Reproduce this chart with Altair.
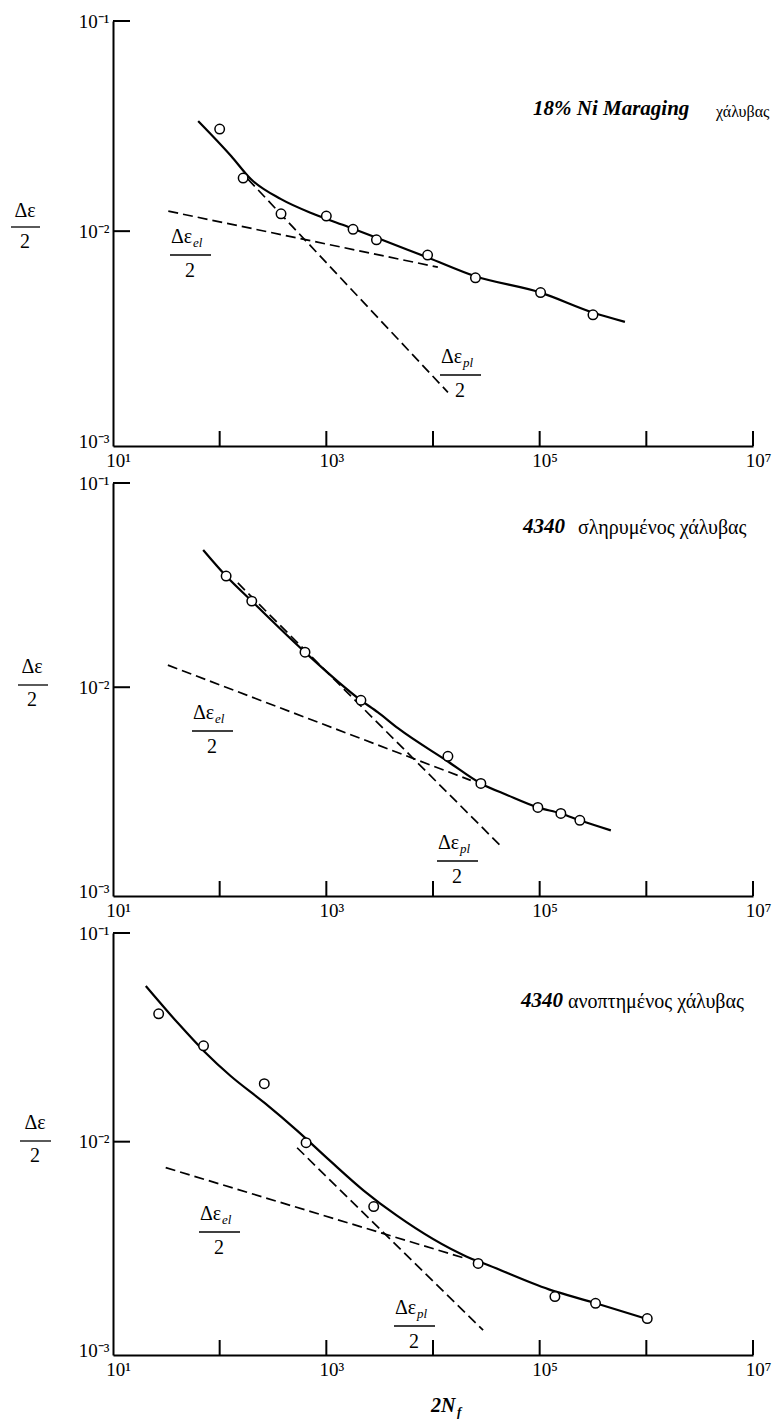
import altair as alt
import pandas as pd

FONT = "Liberation Serif"

# ---------------- data (2N_f , strain amplitude) ----------------
# Panel 1: 18% Ni Maraging
P1_PTS_N = [100, 166, 376, 1000, 1780, 2950, 8900, 25000, 102000, 316000]
P1_PTS_E = [0.0306, 0.0179, 0.0121, 0.0118, 0.0102, 0.0091, 0.0077, 0.0060, 0.0051, 0.0040]
P1_CUR_N = [63, 128, 196, 376, 781, 1590, 4690, 8900, 25000, 102000, 316000, 630000]
P1_CUR_E = [0.0334, 0.0228, 0.0177, 0.0142, 0.0120, 0.0105, 0.0085, 0.0075, 0.0061, 0.0051, 0.0041, 0.0037]
P1_EL_N = [33, 11100]
P1_EL_E = [0.01245, 0.00674]
P1_PL_N = [184, 13800]
P1_PL_E = [0.0177, 0.00171]

# Panel 2: 4340 hardened
P2_PTS_N = [115, 200, 631, 2110, 13800, 28100, 96200, 158000, 238000]
P2_PTS_E = [0.0350, 0.0264, 0.01485, 0.00863, 0.00459, 0.00338, 0.00258, 0.00241, 0.00223]
P2_CUR_N = [70, 115, 200, 631, 2110, 3050, 4690, 13800, 28100, 50000, 96200, 158000, 238000, 465000]
P2_CUR_E = [0.0470, 0.0350, 0.0264, 0.01485, 0.00863, 0.00753, 0.0063, 0.00433, 0.00338, 0.00296, 0.00258, 0.00241, 0.00223, 0.00199]
P2_EL_N = [32.7, 22600]
P2_EL_E = [0.01283, 0.00350]
P2_PL_N = [148, 45200]
P2_PL_E = [0.0324, 0.00163]

# Panel 3: 4340 annealed
P3_PTS_N = [26.8, 70.6, 262, 646, 2780, 26500, 139000, 334000, 1020000]
P3_PTS_E = [0.0410, 0.0288, 0.01896, 0.00989, 0.00489, 0.00261, 0.00181, 0.00168, 0.00142]
P3_CUR_N = [20.3, 40.4, 72.1, 126, 262, 532, 1080, 2240, 4560, 20500, 33600, 122000, 313000, 980000]
P3_CUR_E = [0.0557, 0.0371, 0.0270, 0.0207, 0.01538, 0.01130, 0.00811, 0.00583, 0.00443, 0.00282, 0.00255, 0.00196, 0.00170, 0.00142]
P3_EL_N = [31.2, 20500]
P3_EL_E = [0.00751, 0.00275]
P3_PL_N = [532, 29500]
P3_PL_E = [0.00935, 0.00125]

X_TICKS = [1e2, 1e3, 1e4, 1e5, 1e6, 1e7]
X_LABELS = [1e1, 1e3, 1e5, 1e7]
Y_TICKS = [0.01, 0.1]
Y_LABELS = [0.001, 0.01, 0.1]
X_DOMAIN = [10, 1e7]
Y_DOMAIN = [0.00095, 0.1]

W = 640
DUMMY = pd.DataFrame({"d": [0]})


def txt(s, x, y, size=20, style="normal", weight="normal", align="left"):
    return alt.Chart(DUMMY).mark_text(
        text=s, font=FONT, fontSize=size, fontStyle=style, fontWeight=weight,
        align=align, baseline="middle", color="black"
    ).encode(x=alt.value(x), y=alt.value(y))


def hline(x1, x2, y, w=1.3):
    return alt.Chart(DUMMY).mark_rule(color="black", strokeWidth=w).encode(
        x=alt.value(x1), x2=alt.value(x2), y=alt.value(y))


def frac(x, y, sub=None):
    parts = [txt("Δε", x, y, 20)]
    width = 24
    if sub:
        parts.append(txt(sub, x + 22, y + 6, 13, style="italic"))
        width = 40
    parts.append(hline(x - 1, x + width, y + 18))
    parts.append(txt("2", x + width / 2 - 1, y + 34, 20, align="center"))
    return parts


def panel(H, pts, cur, el, pl, extras):
    xs = alt.Scale(type="log", domain=X_DOMAIN, nice=False)
    ys = alt.Scale(type="log", domain=Y_DOMAIN, nice=False)
    xax = alt.Axis(values=X_LABELS, ticks=False, grid=False, domainColor="black",
                   domainWidth=2, labelFont=FONT, labelFontSize=19, labelColor="black",
                   labelExpr="'10' + ['⁰','¹','²','³','⁴','⁵','⁶','⁷'][round(log(datum.value)/LN10)]",
                   labelPadding=5, labelOffset=5, labelFlush=False, labelOverlap=False,
                   labelBaseline="top", title=None)
    yax = alt.Axis(values=Y_LABELS, ticks=False, grid=False, domainColor="black",
                   domainWidth=2, labelFont=FONT, labelFontSize=19, labelColor="black",
                   labelExpr="'10⁻' + ['⁰','¹','²','³'][round(-log(datum.value)/LN10)]",
                   labelPadding=4, labelFlush=False, labelOverlap=False, title=None)
    X = alt.X("N:Q", scale=xs, axis=xax)
    Y = alt.Y("E:Q", scale=ys, axis=yax)

    def df(n, e):
        return pd.DataFrame({"N": n, "E": e})

    curve = alt.Chart(df(*cur)).mark_line(color="black", strokeWidth=2.2,
                                          interpolate="monotone").encode(x=X, y=Y)
    elas = alt.Chart(df(*el)).mark_line(color="black", strokeWidth=1.7,
                                         strokeDash=[10, 5]).encode(x=X, y=Y)
    plas = alt.Chart(df(*pl)).mark_line(color="black", strokeWidth=1.7,
                                         strokeDash=[10, 5]).encode(x=X, y=Y)
    points = alt.Chart(df(*pts)).mark_point(shape="circle", filled=True, fill="white",
                                            stroke="black", strokeWidth=1.5,
                                            size=90, opacity=1).encode(x=X, y=Y)
    xt = alt.Chart(pd.DataFrame({"N": X_TICKS})).mark_rule(color="black", strokeWidth=2).encode(
        x=alt.X("N:Q", scale=xs, axis=xax), y=alt.value(H), y2=alt.value(H - 15))
    yt = alt.Chart(pd.DataFrame({"E": Y_TICKS})).mark_rule(color="black", strokeWidth=2).encode(
        y=alt.Y("E:Q", scale=ys, axis=yax), x=alt.value(0), x2=alt.value(17))
    layers = [elas, plas, curve, points, xt, yt] + extras
    return alt.layer(*layers).properties(
        width=W, height=H,
        view=alt.ViewBackground(stroke="transparent", strokeWidth=0, strokeOpacity=0)
    )


H1, H2, H3 = 425, 413, 422

ex1 = [
    txt("Δε", -88, 190, 20, align="center"), hline(-102, -73, 206), txt("2", -88, 221, 20, align="center"),
    txt("18% Ni Maraging", 420, 88, 21, style="italic", weight="bold"),
    txt("χάλυβας", 603, 91, 16),
] + frac(58, 216, "el") + frac(328, 336, "pl")

ex2 = [
    txt("Δε", -81, 184, 20, align="center"), hline(-95, -65, 202), txt("2", -81, 217, 20, align="center"),
    txt("4340", 410, 44, 21, style="italic", weight="bold"),
    txt("σληρυμένος χάλυβας", 465, 45, 20),
] + frac(80, 230, "el") + frac(325, 360, "pl")

ex3 = [
    txt("Δε", -78, 190, 20, align="center"), hline(-93, -62, 208), txt("2", -78, 223, 20, align="center"),
    txt("4340", 408, 68, 21, style="italic", weight="bold"),
    txt("ανοπτημένος χάλυβας", 455, 69, 20),
    txt("2N", 318, 473, 20, style="italic", weight="bold"),
    txt("f", 344, 479, 13, style="italic", weight="bold"),
] + frac(87, 281, "el") + frac(282, 375, "pl")

p1 = panel(H1, (P1_PTS_N, P1_PTS_E), (P1_CUR_N, P1_CUR_E), (P1_EL_N, P1_EL_E), (P1_PL_N, P1_PL_E), ex1)
p2 = panel(H2, (P2_PTS_N, P2_PTS_E), (P2_CUR_N, P2_CUR_E), (P2_EL_N, P2_EL_E), (P2_PL_N, P2_PL_E), ex2)
p3 = panel(H3, (P3_PTS_N, P3_PTS_E), (P3_CUR_N, P3_CUR_E), (P3_EL_N, P3_EL_E), (P3_PL_N, P3_PL_E), ex3)

chart = alt.vconcat(
    p1, p2, p3, spacing=37, bounds="flush",
    padding={"left": 2, "top": 4, "right": 5, "bottom": 5}
).configure_view(
    stroke="transparent", strokeWidth=0, strokeOpacity=0
).configure(
    background="white",
    style={"cell": {"stroke": "transparent", "strokeWidth": 0, "strokeOpacity": 0}}
)

chart.save("out.html", embed_options={"renderer": "svg", "actions": False})
